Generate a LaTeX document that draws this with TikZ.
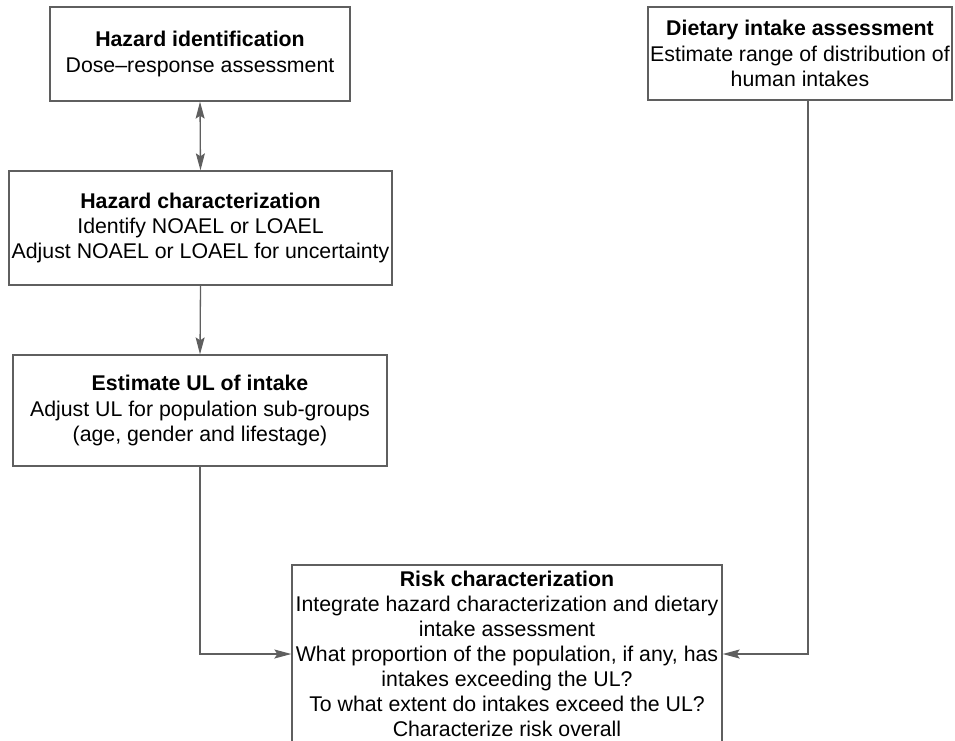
\documentclass[tikz,border=0pt]{standalone}
\usepackage{fontspec}
\setmainfont{Liberation Sans}
\usetikzlibrary{arrows.meta}
\definecolor{ln}{RGB}{95,95,95}
\begin{document}
\begin{tikzpicture}[x=1pt,y=1pt,
  box/.style={draw=ln,line width=1.3pt,fill=white,align=center,inner sep=0pt,
    font=\fontsize{21.3}{25.3}\selectfont},
  conn/.style={draw=ln,line width=1.3pt},
  tip/.style={-{Stealth[length=17pt,width=9pt,inset=3pt]}}]
\useasboundingbox (0,0) rectangle (955,-740);
\begin{scope}
\clip (0,0) rectangle (955,-740);
\node[box,minimum width=300,minimum height=94] (hid) at (200,-54)
  {\textbf{Hazard identification}\\Dose–response assessment};
\node[box,minimum width=383,minimum height=114] (hchar) at (200.5,-228)
  {\textbf{Hazard characterization}\\Identify NOAEL or LOAEL\\Adjust NOAEL or LOAEL for uncertainty};
\node[box,minimum width=374,minimum height=111] (ul) at (200,-410.5)
  {\textbf{Estimate UL of intake}\\Adjust UL for population sub-groups\\(age, gender and lifestage)};
\node[box,minimum width=430,minimum height=178,font=\fontsize{21.3}{24.9}\selectfont] (risk) at (507,-654)
  {\textbf{Risk characterization}\\Integrate hazard characterization and dietary\\intake assessment\\What proportion of the population, if any, has\\intakes exceeding the UL?\\To what extent do intakes exceed the UL?\\Characterize risk overall};
\node[box,minimum width=304,minimum height=93] (diet) at (800,-53.5)
  {\textbf{Dietary intake assessment}\\Estimate range of distribution of\\human intakes};
\draw[conn,{Stealth[length=17pt,width=9pt,inset=3pt]}-{Stealth[length=17pt,width=9pt,inset=3pt]}] (hid.south) -- (hchar.north);
\draw[conn,tip] (hchar.south) -- (ul.north);
\draw[conn,tip] (ul.south) |- (risk.west);
\draw[conn,tip] ([xshift=8pt]diet.south) |- (risk.east);
\end{scope}
\end{tikzpicture}
\end{document}
